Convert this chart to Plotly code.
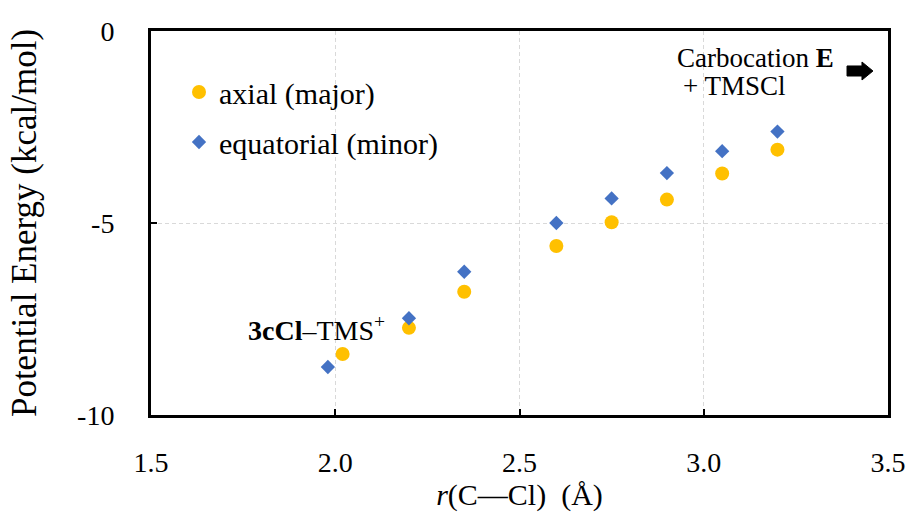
import plotly.graph_objects as go

# ---- data ----
r_axial = [2.02, 2.20, 2.35, 2.60, 2.75, 2.90, 3.05, 3.20]
E_axial = [-8.41, -7.73, -6.79, -5.60, -4.98, -4.39, -3.71, -3.09]
r_equatorial = [1.98, 2.20, 2.35, 2.60, 2.75, 2.90, 3.05, 3.20]
E_equatorial = [-8.75, -7.48, -6.27, -5.00, -4.36, -3.70, -3.13, -2.62]

x_ticks = [1.5, 2.0, 2.5, 3.0, 3.5]
x_ticklabels = ["1.5", "2.0", "2.5", "3.0", "3.5"]
y_ticks = [-10, -5, 0]
y_ticklabels = ["-10", "-5", "0"]

FONT = "Liberation Serif"
W, H = 907, 521
L, R, T, B = 151, 19, 31, 106
PW, PH = W - L - R, H - T - B


def px(x):
    """page pixel x -> paper fraction"""
    return (x - L) / PW


def py(y):
    """page pixel y -> paper fraction"""
    return (H - B - y) / PH


fig = go.Figure()
fig.add_trace(go.Scatter(
    x=r_axial, y=E_axial, mode="markers", name="axial (major)",
    marker=dict(symbol="circle", size=14, color="#FFC000"),
    legend="legend"))
fig.add_trace(go.Scatter(
    x=r_equatorial, y=E_equatorial, mode="markers", name="equatorial (minor)",
    marker=dict(symbol="diamond", size=11, color="#4472C4"),
    legend="legend2"))

axis_common = dict(
    showline=True, linecolor="black", linewidth=3, mirror=True,
    ticks="inside", ticklen=6, tickwidth=2, tickcolor="black",
    showgrid=True, gridcolor="#d9d9d9", gridwidth=1, griddash="4px,3px",
    zeroline=False, automargin=False,
    tickfont=dict(family=FONT, size=28, color="black"),
)

fig.update_xaxes(range=[1.5, 3.5], tickvals=x_ticks, ticktext=x_ticklabels,
                 ticklabelstandoff=20,
                 title=dict(text="<i>r</i>(C\u2014Cl)\u00a0\u00a0(Å)",
                            font=dict(family=FONT, size=30, color="black"),
                            standoff=5),
                 **axis_common)
fig.update_yaxes(range=[-10, 0], tickvals=y_ticks, ticktext=y_ticklabels,
                 ticklabelstandoff=28,
                 title=dict(text="Potential Energy (kcal/mol)",
                            font=dict(family=FONT, size=35, color="black"),
                            standoff=30),
                 **axis_common)

legend_common = dict(font=dict(family=FONT, size=30, color="black"),
                     bgcolor="rgba(0,0,0,0)", borderwidth=0,
                     xanchor="left", yanchor="middle")

fig.update_layout(
    width=W, height=H,
    margin=dict(l=L, r=R, t=T, b=B, autoexpand=False),
    paper_bgcolor="white", plot_bgcolor="white",
    font=dict(family=FONT, color="black"),
    showlegend=True,
    legend=dict(x=px(179), y=py(92), **legend_common),
    legend2=dict(x=px(179), y=py(142), **legend_common),
)

fig.add_annotation(xref="paper", yref="paper", x=px(675), y=py(58),
                   xanchor="left", yanchor="middle", showarrow=False,
                   text="Carbocation <b>E</b>",
                   font=dict(family=FONT, size=27, color="black"))
fig.add_annotation(xref="paper", yref="paper", x=px(681), y=py(86),
                   xanchor="left", yanchor="middle", showarrow=False,
                   text="+ TMSCl",
                   font=dict(family=FONT, size=27, color="black"))
fig.add_annotation(xref="paper", yref="paper", x=px(246), y=py(328),
                   xanchor="left", yanchor="middle", showarrow=False,
                   text="<b>3cCl</b>\u2013TMS<sup>+</sup>",
                   font=dict(family=FONT, size=28, color="black"))

# block arrow (decoration) in paper coordinates
pts = [(847, 66), (862, 66), (862, 62), (873, 71), (862, 80), (862, 76), (847, 76)]
path = "M " + " L ".join(f"{px(a):.4f},{py(b):.4f}" for a, b in pts) + " Z"
fig.add_shape(type="path", xref="paper", yref="paper", path=path,
              fillcolor="black", line=dict(color="black", width=1))

fig.write_html(
    "out.html",
    config={"displayModeBar": False},
    post_script="document.body.style.margin='0';document.body.style.overflow='hidden';",
)
